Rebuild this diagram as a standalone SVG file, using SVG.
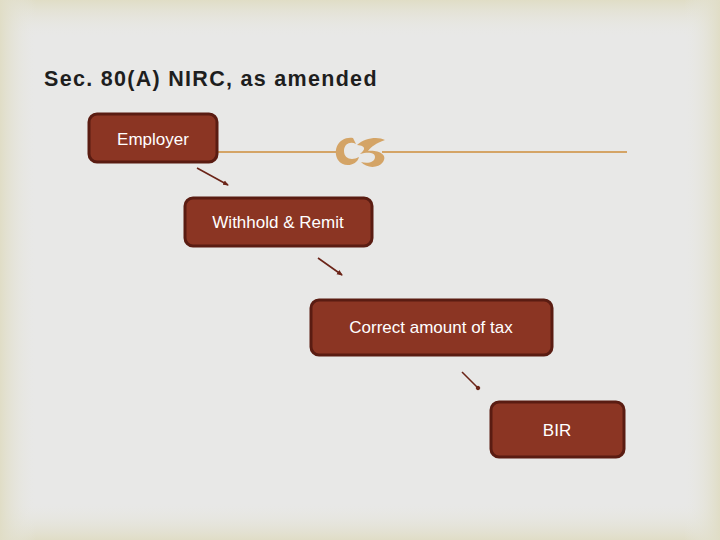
<svg xmlns="http://www.w3.org/2000/svg" width="720" height="540" viewBox="0 0 720 540">
<defs>
<linearGradient id="gv" x1="0" y1="0" x2="0" y2="1">
<stop offset="0" stop-color="#e0ddc6"/>
<stop offset="0.07" stop-color="#e8e8e4" stop-opacity="0"/>
<stop offset="0.93" stop-color="#e8e8e4" stop-opacity="0"/>
<stop offset="1" stop-color="#e0ddc6"/>
</linearGradient>
<linearGradient id="gh" x1="0" y1="0" x2="1" y2="0">
<stop offset="0" stop-color="#e0ddc6"/>
<stop offset="0.05" stop-color="#e8e8e4" stop-opacity="0"/>
<stop offset="0.95" stop-color="#e8e8e4" stop-opacity="0"/>
<stop offset="1" stop-color="#e0ddc6"/>
</linearGradient>
<marker id="ah" markerWidth="6" markerHeight="6" refX="5" refY="3" orient="auto" markerUnits="userSpaceOnUse">
<path d="M0,0.5 L6,3 L0,5.5 Z" fill="#6b2418"/>
</marker>
<marker id="dot" markerWidth="6" markerHeight="6" refX="3" refY="3" orient="auto" markerUnits="userSpaceOnUse">
<circle cx="3" cy="3" r="2.2" fill="#6b2418"/>
</marker>
</defs>
<style>
.box{fill:#8b3523;stroke:#5a1c12;stroke-width:3}
.lbl{fill:#ffffff;font-family:"Liberation Sans",Arial,sans-serif;font-size:17px;text-anchor:middle}
.conn{stroke:#6b2418;stroke-width:1.6;fill:none}
</style>
<rect width="720" height="540" fill="#e8e8e7"/>
<rect width="720" height="540" fill="url(#gv)"/>
<rect width="720" height="540" fill="url(#gh)"/>
<text x="44" y="86" font-family="'Liberation Sans',Arial,sans-serif" font-size="21.5" font-weight="bold" fill="#1e1e1e" letter-spacing="1.3">Sec. 80(A) NIRC, as amended</text>
<g id="rule">
<line x1="217" y1="152" x2="338" y2="152" stroke="#d4a466" stroke-width="2"/>
<line x1="382" y1="152" x2="627" y2="152" stroke="#d4a466" stroke-width="2"/>
<path d="M353,138 C339,136 332,150 338,160 C343,168 357,166 359,157 C352,161 344,159 344,151 C344,143 351,141 356,144 Z M357,145 C364,138 378,136 385,140 C376,143 371,147 368,151 C379,150 388,155 383,162 C378,169 366,168 361,162 C368,164 375,162 375,157 C375,152 367,152 360,154 C365,150 367,146 357,145 Z" fill="#d4a466"/>
</g>
<g id="connectors">
<line class="conn" x1="197" y1="168" x2="228" y2="185" marker-end="url(#ah)"/>
<line class="conn" x1="318" y1="258" x2="342" y2="275" marker-end="url(#ah)"/>
<line class="conn" x1="462" y1="372" x2="478" y2="388" marker-end="url(#dot)"/>
</g>
<g id="employer">
<rect class="box" x="89" y="114" width="128" height="48" rx="8"/>
<text class="lbl" x="153" y="145">Employer</text>
</g>
<g id="withhold">
<rect class="box" x="185" y="198" width="187" height="48" rx="8"/>
<text class="lbl" x="278" y="228">Withhold &amp; Remit</text>
</g>
<g id="correct">
<rect class="box" x="311" y="300" width="241" height="55" rx="8"/>
<text class="lbl" x="431" y="333">Correct amount of tax</text>
</g>
<g id="bir">
<rect class="box" x="491" y="402" width="133" height="55" rx="8"/>
<text class="lbl" x="557" y="436">BIR</text>
</g>
</svg>
